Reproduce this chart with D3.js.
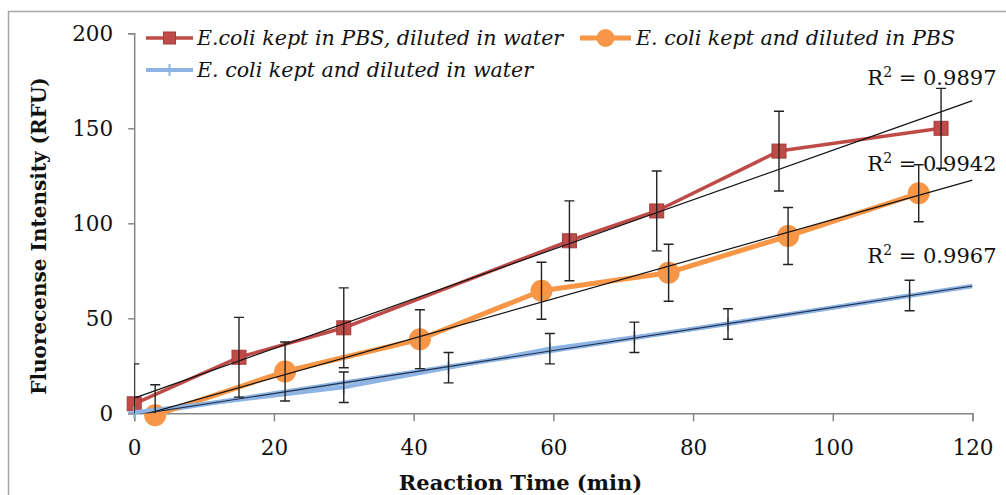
<!DOCTYPE html>
<html><head><meta charset="utf-8">
<script src="https://cdn.jsdelivr.net/npm/d3@7"></script>
<style>body{margin:0;background:#fff;} svg{display:block;}</style>
</head><body><svg id="chart" width="1006" height="495"></svg>
<script>
// ---- data ----
const xTicks = [0, 20, 40, 60, 80, 100, 120];
const yTicks = [0, 50, 100, 150, 200];
const seriesNames = ["E.coli kept in PBS, diluted in water", "E. coli kept and diluted in PBS", "E. coli kept and diluted in water"];
const redX = [0, 15, 30, 62.3, 74.8, 92.3, 115.5];
const redY = [5, 29.5, 45, 90.8, 106.5, 138, 150];
const redErr = [21, 21, 21, 21, 21, 21, 21];
const orangeX = [3, 21.6, 40.9, 58.3, 76.5, 93.6, 112.3];
const orangeY = [-1, 22, 39, 64.5, 74, 93.3, 115.8];
const orangeErr = [16, 15.5, 15.5, 15, 15, 15, 15];
const blueX = [0, 30, 45, 59.5, 71.6, 85, 111];
const blueY = [0.5, 13.7, 24, 34, 40, 47, 62];
const blueErr = [8, 8, 8, 8, 8, 8, 8];
const r2Values = ["0.9897", "0.9942", "0.9967"];
const r2LabelY = [172.8, 127.7, 78.9];
const xTitle = "Reaction Time (min)";
const yTitle = "Fluorecense Intensity (RFU)";

// ---- layout ----
const svg = d3.select("#chart");
const X0 = 134.2, X1 = 972.5, YT = 33.3, YB = 413.3;
const x = d3.scaleLinear().domain([0, 120]).range([X0, X1]);
const y = d3.scaleLinear().domain([0, 200]).range([YB, YT]);
const serif = "'DejaVu Serif', serif";
const ink = "#111";

const series = [
  {name: seriesNames[0], xs: redX, ys: redY, err: redErr, color: "#be4b48", width: 3.5, marker: "square", trend: null},
  {name: seriesNames[1], xs: orangeX, ys: orangeY, err: orangeErr, color: "#f79646", width: 5, marker: "circle", trend: null},
  {name: seriesNames[2], xs: blueX, ys: blueY, err: blueErr, color: "#8eb4e3", width: 4, marker: "plus", trend: "#8eb4e3"}
];

// outer border
svg.append("rect").attr("x", 8.5).attr("y", 11.5).attr("width", 1010).attr("height", 500)
  .attr("fill", "none").attr("stroke", "#a6a6a6").attr("stroke-width", 1.5);

svg.append("defs").append("clipPath").attr("id", "plot")
  .append("rect").attr("x", X0).attr("y", YT).attr("width", X1 - X0).attr("height", YB - YT);

// axes
const yAxis = svg.append("g").attr("transform", `translate(${X0},0)`)
  .call(d3.axisLeft(y).tickValues(yTicks).tickSize(6).tickPadding(15).tickFormat(d3.format("d")));
const xAxis = svg.append("g").attr("transform", `translate(0,${YB})`)
  .call(d3.axisBottom(x).tickValues(xTicks).tickSize(8).tickPadding(18).tickFormat(d3.format("d")));
[yAxis, xAxis].forEach(g => {
  g.select(".domain").attr("stroke", "#868686").attr("stroke-width", 1.5);
  g.selectAll(".tick line").attr("stroke", "#868686").attr("stroke-width", 1.5);
  g.selectAll("text").attr("font-family", serif).attr("font-size", 21.5).attr("fill", ink);
});

// series lines & markers
const line = d3.line().x(d => x(d[0])).y(d => y(d[1]));
function drawMarker(g, type, cx, cy, color, s) {
  if (type === "square") {
    g.append("rect").attr("x", cx - s / 2).attr("y", cy - s / 2).attr("width", s).attr("height", s)
      .attr("fill", color).attr("stroke", "#a33c3a").attr("stroke-width", 1);
  } else if (type === "circle") {
    g.append("circle").attr("cx", cx).attr("cy", cy).attr("r", s / 2).attr("fill", color);
  } else {
    g.append("line").attr("x1", cx).attr("x2", cx).attr("y1", cy - s / 2).attr("y2", cy + s / 2)
      .attr("stroke", color).attr("stroke-width", 2);
    g.append("line").attr("x1", cx - s / 2).attr("x2", cx + s / 2).attr("y1", cy).attr("y2", cy)
      .attr("stroke", color).attr("stroke-width", 2);
  }
}
const markerSize = {square: 14, circle: 22, plus: 12};

// trendline coefficients (least squares of each series)
series.forEach(s => {
  const n = s.xs.length;
  const mx = d3.mean(s.xs), my = d3.mean(s.ys);
  let sxy = 0, sxx = 0;
  for (let i = 0; i < n; i++) { sxy += (s.xs[i] - mx) * (s.ys[i] - my); sxx += (s.xs[i] - mx) ** 2; }
  s.slope = sxy / sxx; s.icpt = my - s.slope * mx;
});

const clipG = svg.append("g").attr("clip-path", "url(#plot)");
// light halo under the blue trendline
series.filter(s => s.trend).forEach(s => {
  clipG.append("line").attr("x1", x(0)).attr("y1", y(s.icpt)).attr("x2", x(120)).attr("y2", y(s.icpt + s.slope * 120))
    .attr("stroke", s.trend).attr("stroke-width", 4.5);
});

series.forEach(s => {
  const pts = s.xs.map((v, i) => [v, s.ys[i]]);
  const g = svg.append("g");
  g.append("path").attr("d", line(pts)).attr("fill", "none").attr("stroke", s.color)
    .attr("stroke-width", s.width).attr("stroke-linejoin", "round");
  pts.forEach(p => drawMarker(g, s.marker, x(p[0]), y(p[1]), s.color, markerSize[s.marker]));
});

const topG = svg.append("g").attr("clip-path", "url(#plot)");
series.forEach(s => {
  topG.append("line").attr("x1", x(0)).attr("y1", y(s.icpt)).attr("x2", x(120)).attr("y2", y(s.icpt + s.slope * 120))
    .attr("stroke", s.trend ? "#1f3050" : "#111").attr("stroke-width", 1.2);
});

// error bars
series.forEach(s => {
  s.xs.forEach((v, i) => {
    const cx = x(v), top = y(s.ys[i] + s.err[i]), bot = y(s.ys[i] - s.err[i]);
    topG.append("line").attr("x1", cx).attr("x2", cx).attr("y1", top).attr("y2", bot)
      .attr("stroke", "#222").attr("stroke-width", 1.4);
    [top, bot].forEach(yy => topG.append("line").attr("x1", cx - 5).attr("x2", cx + 5).attr("y1", yy).attr("y2", yy)
      .attr("stroke", "#222").attr("stroke-width", 1.4));
  });
});

// R² labels
r2Values.forEach((v, i) => {
  const t = svg.append("text").attr("x", x(120) + 24).attr("y", y(r2LabelY[i]))
    .attr("text-anchor", "end").attr("font-family", serif).attr("font-size", 21).attr("fill", ink);
  t.append("tspan").text("R");
  t.append("tspan").text("2").attr("font-size", 14).attr("dy", -8);
  t.append("tspan").text(" = " + v).attr("dy", 8);
});

// legend
const legendItems = [
  {s: series[0], lx: 146, len: 47, tx: 197, ly: 38},
  {s: series[1], lx: 580, len: 51, tx: 636, ly: 38},
  {s: series[2], lx: 146, len: 47, tx: 197, ly: 70}
];
legendItems.forEach(it => {
  const g = svg.append("g");
  g.append("line").attr("x1", it.lx).attr("x2", it.lx + it.len).attr("y1", it.ly).attr("y2", it.ly)
    .attr("stroke", it.s.color).attr("stroke-width", it.s.width);
  drawMarker(g, it.s.marker, it.lx + it.len / 2, it.ly, it.s.color, it.s.marker === "circle" ? 18 : 12);
  g.append("text").attr("x", it.tx).attr("y", it.ly + 7).text(it.s.name)
    .attr("font-family", serif).attr("font-style", "italic").attr("font-size", 20.6).attr("fill", ink);
});

// axis titles
svg.append("text").attr("x", 520.5).attr("y", 490).attr("text-anchor", "middle")
  .attr("font-family", serif).attr("font-weight", "bold").attr("font-size", 21).attr("fill", ink).text(xTitle);
svg.append("text").attr("transform", "translate(46,236) rotate(-90)").attr("text-anchor", "middle")
  .attr("font-family", serif).attr("font-weight", "bold").attr("font-size", 20).attr("fill", ink).text(yTitle);
</script>
</body></html>
